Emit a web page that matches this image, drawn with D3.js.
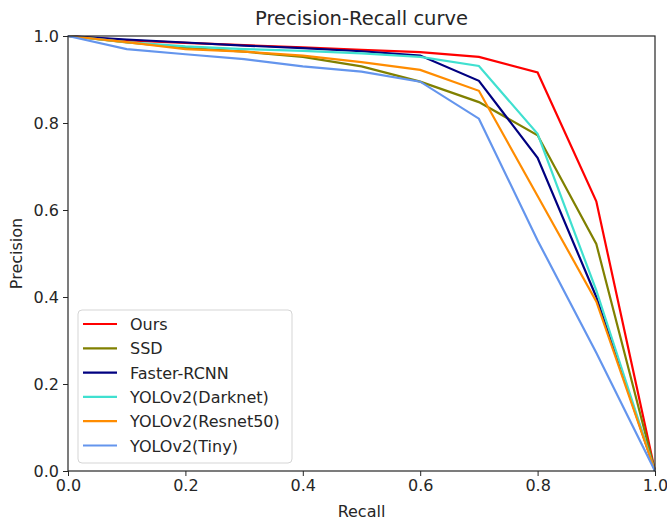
<!DOCTYPE html>
<html>
<head>
<meta charset="utf-8">
<script src="https://cdn.jsdelivr.net/npm/d3@7"></script>
<style>
  body { margin: 0; background: #fff; }
  text { font-family: "DejaVu Sans", sans-serif; fill: #262626; }
</style>
</head>
<body>
<svg id="chart"></svg>
<script>
// recall points, shared by every curve
var recall = [0, 0.1, 0.2, 0.3, 0.4, 0.5, 0.6, 0.7, 0.8, 0.9, 1.0];

var ours      = [1.0, 0.990, 0.984, 0.979, 0.974, 0.968, 0.963, 0.952, 0.916, 0.620, 0.0];
var ssd       = [1.0, 0.985, 0.973, 0.964, 0.952, 0.930, 0.895, 0.848, 0.772, 0.522, 0.0];
var fasterRcnn = [1.0, 0.992, 0.985, 0.978, 0.972, 0.965, 0.955, 0.897, 0.720, 0.400, 0.0];
var darknet   = [1.0, 0.986, 0.976, 0.970, 0.966, 0.960, 0.952, 0.931, 0.775, 0.415, 0.0];
var resnet50  = [1.0, 0.986, 0.970, 0.964, 0.955, 0.940, 0.922, 0.874, 0.632, 0.390, 0.0];
var tiny      = [1.0, 0.970, 0.958, 0.947, 0.930, 0.918, 0.895, 0.810, 0.530, 0.272, 0.0];

var seriesNames = ["Ours", "SSD", "Faster-RCNN", "YOLOv2(Darknet)", "YOLOv2(Resnet50)", "YOLOv2(Tiny)"];
var seriesValues = [ours, ssd, fasterRcnn, darknet, resnet50, tiny];
var seriesColors = ["#ff0000", "#808000", "#000080", "#40e0d0", "#ff8c00", "#6495ed"];

var tickValues = [0, 0.2, 0.4, 0.6, 0.8, 1.0];

function main(){
    var svgWidth = 667, svgHeight = 523;
    var left = 68, right = 655, top = 36, bottom = 471;

    var svg = d3.select('#chart')
        .attr('width', svgWidth)
        .attr('height', svgHeight);

    var xScale = d3.scaleLinear().domain([0, 1]).range([left, right]);
    var yScale = d3.scaleLinear().domain([0, 1]).range([bottom, top]);

    var line = d3.line()
        .x(function(d, i){ return xScale(recall[i]); })
        .y(function(d){ return yScale(d); });

    // curves
    svg.append('g')
        .selectAll('path')
        .data(seriesValues)
        .enter()
        .append('path')
        .attr('d', line)
        .attr('fill', 'none')
        .attr('stroke', function(d, i){ return seriesColors[i]; })
        .attr('stroke-width', 2.2)
        .attr('stroke-linejoin', 'miter');

    // axes
    var xAxis = d3.axisBottom(xScale).tickValues(tickValues).tickFormat(d3.format('.1f')).tickSize(5).tickPadding(4);
    var yAxis = d3.axisLeft(yScale).tickValues(tickValues).tickFormat(d3.format('.1f')).tickSize(5).tickPadding(4);

    var gx = svg.append('g').attr('transform', 'translate(0,' + bottom + ')').call(xAxis);
    var gy = svg.append('g').attr('transform', 'translate(' + left + ',0)').call(yAxis);
    [gx, gy].forEach(function(g){
        g.select('.domain').remove();
        g.selectAll('.tick line').attr('stroke', '#262626').attr('stroke-width', 1);
        g.selectAll('.tick text').attr('font-size', '16px').attr('fill', '#262626')
            .style('font-family', '"DejaVu Sans", sans-serif');
    });

    // frame
    svg.append('rect')
        .attr('x', left).attr('y', top)
        .attr('width', right - left).attr('height', bottom - top)
        .attr('fill', 'none')
        .attr('stroke', '#262626')
        .attr('stroke-width', 1.2);

    // titles
    svg.append('text')
        .attr('x', (left + right) / 2).attr('y', 25)
        .attr('text-anchor', 'middle')
        .attr('font-size', '19.5px')
        .text('Precision-Recall curve');

    svg.append('text')
        .attr('x', (left + right) / 2).attr('y', 517)
        .attr('text-anchor', 'middle')
        .attr('font-size', '16px')
        .text('Recall');

    svg.append('text')
        .attr('transform', 'translate(22,' + ((top + bottom) / 2) + ') rotate(-90)')
        .attr('text-anchor', 'middle')
        .attr('font-size', '16px')
        .text('Precision');

    // legend
    var legend = svg.append('g').attr('transform', 'translate(78,310)');
    legend.append('rect')
        .attr('width', 214).attr('height', 153)
        .attr('rx', 4)
        .attr('fill', '#fff').attr('fill-opacity', 0.8)
        .attr('stroke', '#d5d5d5');

    var rows = legend.selectAll('g.row')
        .data(seriesNames)
        .enter()
        .append('g')
        .attr('class', 'row')
        .attr('transform', function(d, i){ return 'translate(0,' + (14 + i * 24.3) + ')'; });

    rows.append('line')
        .attr('x1', 5).attr('x2', 39)
        .attr('stroke', function(d, i){ return seriesColors[i]; })
        .attr('stroke-width', 2.2);

    rows.append('text')
        .attr('x', 52).attr('y', 6)
        .attr('font-size', '16px')
        .text(function(d){ return d; });
}
main();
</script>
</body>
</html>
